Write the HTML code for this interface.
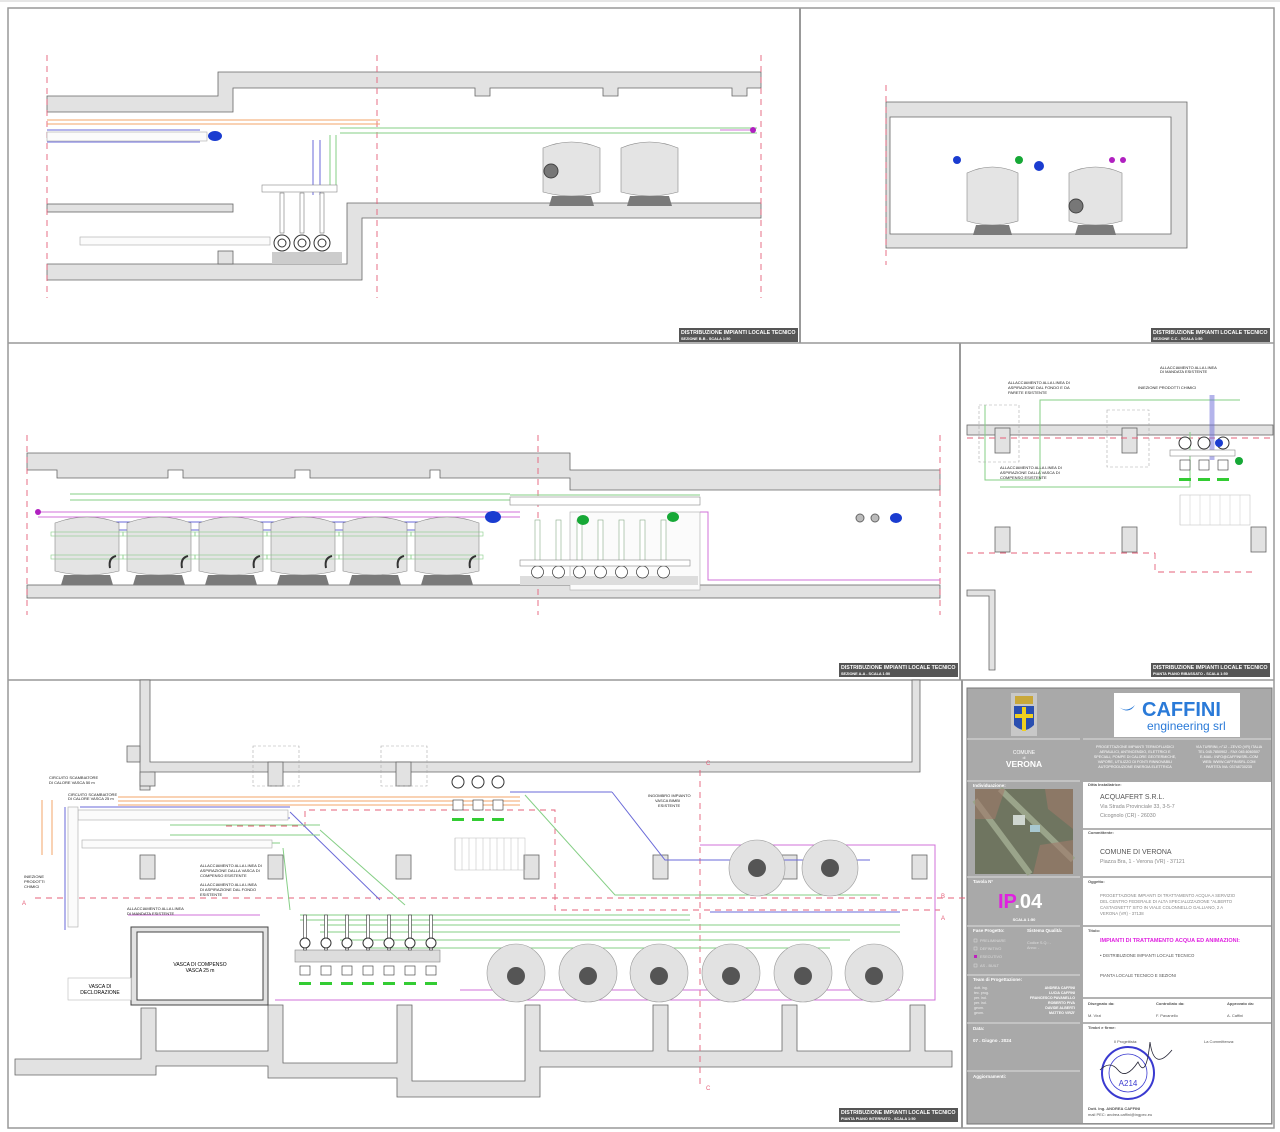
<!DOCTYPE html>
<html><head><meta charset="utf-8"><style>
html,body{margin:0;padding:0;background:#fff;}
svg{display:block;font-family:"Liberation Sans",sans-serif;}
</style></head><body>
<svg id="s" width="1280" height="1132" viewBox="0 0 1280 1132" xmlns="http://www.w3.org/2000/svg">
<rect width="1280" height="1132" fill="#fff"/>
<!-- frame -->
<rect x="8" y="8" width="1266" height="1120" fill="none" stroke="#999" stroke-width="1.5"/>
<line x1="0" y1="1" x2="1280" y2="1" stroke="#ccc"/>
<line x1="800" y1="8" x2="800" y2="343" stroke="#999" stroke-width="2"/>
<line x1="8" y1="343" x2="1274" y2="343" stroke="#999" stroke-width="1.5"/>
<line x1="960" y1="343" x2="960" y2="680" stroke="#999" stroke-width="2"/>
<line x1="8" y1="680" x2="1274" y2="680" stroke="#999" stroke-width="1.5"/>
<line x1="962" y1="680" x2="962" y2="1128" stroke="#999" stroke-width="2"/>

<g id="walls" fill="#e2e2e2" stroke="#666" stroke-width="0.8">
<!-- B-B -->
<path d="M47 96 H218 V72 H761 V88 H747 V96 H732 V88 H618 V96 H603 V88 H490 V96 H475 V88 H233 V112 H47 Z"/>
<rect x="47" y="204" width="186" height="8"/>
<path d="M347 203 H761 V218 H362 V280 H47 V264 H347 Z"/>
<rect x="218" y="251" width="15" height="13"/>
<!-- C-C -->
<path d="M886 102 H1187 V248 H886 Z M890 117 V234 H1171 V117 Z" fill-rule="evenodd"/>
<!-- A-A -->
<path d="M27 453 H570 V470 H940 V490 H570 V478 H440 V470 H430 V478 H310 V470 H295 V478 H183 V470 H168 V478 H57 V470 H27 Z"/>
<rect x="27" y="585" width="913" height="13"/>
<!-- plan ribassato -->
<rect x="967" y="425" width="306" height="10"/>
<rect x="995" y="428" width="15" height="25"/>
<rect x="1122" y="428" width="15" height="25"/>
<rect x="995" y="527" width="15" height="25"/>
<rect x="1122" y="527" width="15" height="25"/>
<rect x="1251" y="527" width="15" height="25"/>
<path d="M967 590 H995 V670 H989 V596 H967 Z"/>
<!-- plan interrato top -->
<path d="M140 680 H150 V762 H912 V680 H920 V772 H150 V790 H140 Z"/>
<rect x="127" y="746" width="13" height="16"/>
<rect x="140" y="772" width="15" height="14"/>
<rect x="268" y="762" width="15" height="24"/>
<rect x="396" y="762" width="15" height="24"/>
<rect x="140" y="855" width="15" height="24"/>
<rect x="268" y="855" width="15" height="24"/>
<rect x="396" y="855" width="15" height="24"/>
<rect x="524" y="855" width="15" height="24"/>
<rect x="653" y="855" width="15" height="24"/>
<rect x="782" y="855" width="15" height="24"/>
<rect x="912" y="855" width="15" height="24"/>
<!-- plan bottom -->
<path d="M15 1059 H141 V1008 H156 V1051 H268 V1005 H283 V1063 H397 V1005 H412 V1081 H525 V1005 H540 V1051 H653 V1005 H668 V1051 H782 V1005 H797 V1051 H910 V1005 H925 V1051 H952 V1067 H540 V1097 H397 V1078 H268 V1066 H156 V1075 H15 Z"/>
</g>
<!-- vasca compenso -->
<rect x="131" y="927" width="137" height="78" fill="#e2e2e2" stroke="#444"/>
<rect x="137" y="932" width="126" height="68" fill="#fff" stroke="#444"/>
<text x="200" y="966" font-size="5" text-anchor="middle">VASCA DI COMPENSO</text>
<text x="200" y="972" font-size="5" text-anchor="middle">VASCA 25 m</text>
<rect x="68" y="978" width="63" height="22" fill="#fff" stroke="#bbb" stroke-width="0.6"/>
<text x="100" y="988" font-size="5" text-anchor="middle">VASCA DI</text>
<text x="100" y="994" font-size="5" text-anchor="middle">DECLORAZIONE</text>

<!-- red dashed section lines -->
<g stroke="#e5607a" stroke-width="0.9" stroke-dasharray="6,5" fill="none">
<line x1="47" y1="55" x2="47" y2="298"/>
<line x1="377" y1="55" x2="377" y2="298"/>
<line x1="761" y1="55" x2="761" y2="298"/>
<line x1="886" y1="85" x2="886" y2="265"/>
<line x1="27" y1="435" x2="27" y2="615"/>
<line x1="538" y1="435" x2="538" y2="615"/>
<line x1="940" y1="435" x2="940" y2="615"/>
<line x1="967" y1="438" x2="1273" y2="438"/>
<line x1="967" y1="553" x2="1155" y2="553"/>
<polyline points="1155,553 1155,572 1255,572"/>
<polyline points="35,898 970,898"/>
<polyline points="226,826 305,826 305,810 555,810 555,910 940,910"/>
<line x1="700" y1="770" x2="700" y2="1085"/>
</g>
<g fill="#e5607a" font-size="6"><text x="22" y="905">A</text><text x="941" y="920">A</text><text x="217" y="817">B</text><text x="941" y="898">B</text><text x="706" y="765">C</text><text x="706" y="1090">C</text></g>

<!-- pipes -->
<g fill="none" stroke-width="1">
<!-- B-B -->
<g stroke="#f3a56a"><line x1="47" y1="120" x2="380" y2="120"/><line x1="47" y1="124" x2="380" y2="124"/></g>
<g stroke="#6a6ad8"><line x1="47" y1="130" x2="200" y2="130"/><line x1="47" y1="142" x2="200" y2="142"/><line x1="313" y1="140" x2="313" y2="195"/><line x1="320" y1="140" x2="320" y2="195"/></g>
<g stroke="#86cf86"><line x1="340" y1="128" x2="757" y2="128"/><line x1="340" y1="133" x2="757" y2="133"/><line x1="330" y1="135" x2="330" y2="185"/><line x1="336" y1="135" x2="336" y2="185"/><line x1="100" y1="238" x2="260" y2="238"/><line x1="100" y1="244" x2="260" y2="244"/></g>
<line x1="720" y1="130" x2="755" y2="130" stroke="#d070d8"/>
<!-- A-A -->
<g stroke="#86cf86"><line x1="70" y1="494" x2="510" y2="494"/><line x1="70" y1="500" x2="510" y2="500"/><line x1="510" y1="495" x2="700" y2="495"/></g>
<g stroke="#d070d8"><line x1="38" y1="512" x2="520" y2="512"/><line x1="38" y1="517" x2="520" y2="517"/><polyline points="700,512 708,512 708,580 940,580"/></g>
<g stroke="#6a6ad8"><line x1="60" y1="522" x2="470" y2="522"/><line x1="60" y1="530" x2="470" y2="530"/></g>
<!-- ribassato -->
<g stroke="#86cf86"><polyline points="985,405 985,480 1040,480 1040,400 1240,400"/><polyline points="1000,487 1190,487 1190,432"/></g>
<line x1="1212" y1="395" x2="1212" y2="460" stroke="#6a6ad8" stroke-width="5" opacity="0.5"/>
<!-- plan -->
<g stroke="#f3a56a"><line x1="52" y1="800" x2="52" y2="855"/><line x1="42" y1="800" x2="42" y2="855"/><line x1="118" y1="797" x2="520" y2="797"/><line x1="118" y1="801" x2="520" y2="801"/><line x1="118" y1="805" x2="520" y2="805"/></g>
<g stroke="#6a6ad8"><polyline points="65,807 65,930"/><line x1="80" y1="807" x2="290" y2="807"/><line x1="80" y1="818" x2="290" y2="818"/><polyline points="290,812 380,900"/><line x1="510" y1="792" x2="612" y2="792"/><polyline points="612,792 665,860 870,860"/><line x1="710" y1="912" x2="900" y2="912"/></g>
<g stroke="#86cf86"><line x1="170" y1="825" x2="320" y2="825"/><line x1="170" y1="835" x2="320" y2="835"/><polyline points="320,830 405,905"/><line x1="170" y1="843" x2="280" y2="843"/><polyline points="283,848 290,910"/><polyline points="525,795 615,895 880,895"/><line x1="300" y1="915" x2="690" y2="915"/><line x1="300" y1="920" x2="690" y2="920"/><line x1="320" y1="925" x2="900" y2="925"/><line x1="320" y1="932" x2="900" y2="932"/><line x1="340" y1="940" x2="850" y2="940"/><line x1="370" y1="948" x2="830" y2="948"/></g>
<g stroke="#d070d8"><polyline points="128,915 260,915"/><polyline points="275,1000 935,1000 935,845 700,845"/><line x1="460" y1="990" x2="900" y2="990"/></g>
</g>

<!-- gray pipe outlines -->
<g fill="#fbfbfb" stroke="#aaa" stroke-width="0.6">
<rect x="47" y="132" width="160" height="9"/>
<rect x="80" y="237" width="190" height="8"/>
<rect x="78" y="810" width="210" height="10"/>
<rect x="82" y="840" width="190" height="8"/>
<rect x="68" y="807" width="10" height="120"/>
<rect x="570" y="512" width="130" height="78"/>
</g>

<!-- filters drawn by script -->
<g id="fil"></g>

<!-- blue/green markers -->
<g>
<ellipse cx="215" cy="136" rx="7" ry="5" fill="#1a3cd0"/>
<circle cx="753" cy="130" r="3" fill="#b020c0"/>
<circle cx="38" cy="512" r="3" fill="#b020c0"/>
<ellipse cx="493" cy="517" rx="8" ry="6" fill="#1a3cd0"/>
<ellipse cx="583" cy="520" rx="6" ry="5" fill="#16a836"/>
<ellipse cx="673" cy="517" rx="6" ry="5" fill="#16a836"/>
<circle cx="860" cy="518" r="4" fill="#bbb" stroke="#666"/>
<circle cx="875" cy="518" r="4" fill="#bbb" stroke="#666"/>
<ellipse cx="896" cy="518" rx="6" ry="5" fill="#1a3cd0"/>
<circle cx="957" cy="160" r="4" fill="#1a3cd0"/>
<circle cx="1019" cy="160" r="4" fill="#16a836"/>
<circle cx="1039" cy="166" r="5" fill="#1a3cd0"/>
<circle cx="1112" cy="160" r="3" fill="#b020c0"/>
<circle cx="1123" cy="160" r="3" fill="#b020c0"/>
<circle cx="1219" cy="443" r="4" fill="#1a3cd0"/>
<circle cx="1239" cy="461" r="4" fill="#16a836"/>
</g>

<!-- annotations -->
<g font-size="4" fill="#222">
<text x="1008" y="384">ALLACCIAMENTO ALLA LINEA DI</text><text x="1008" y="389">ASPIRAZIONE DAL FONDO E DA</text><text x="1008" y="394">PARETE ESISTENTE</text>
<text x="1160" y="369">ALLACCIAMENTO ALLA LINEA</text><text x="1160" y="373">DI MANDATA ESISTENTE</text>
<text x="1138" y="389">INIEZIONE PRODOTTI CHIMICI</text>
<text x="1000" y="469">ALLACCIAMENTO ALLA LINEA DI</text><text x="1000" y="474">ASPIRAZIONE DALLA VASCA DI</text><text x="1000" y="479">COMPENSO ESISTENTE</text>
<text x="49" y="779">CIRCUITO SCAMBIATORE</text><text x="49" y="784">DI CALORE VASCA 50 m</text>
<text x="68" y="796">CIRCUITO SCAMBIATORE</text><text x="68" y="800">DI CALORE VASCA 25 m</text>
<text x="24" y="878">INIEZIONE</text><text x="24" y="883">PRODOTTI</text><text x="24" y="888">CHIMICI</text>
<text x="200" y="867">ALLACCIAMENTO ALLA LINEA DI</text><text x="200" y="872">ASPIRAZIONE DALLA VASCA DI</text><text x="200" y="877">COMPENSO ESISTENTE</text>
<text x="200" y="886">ALLACCIAMENTO ALLA LINEA</text><text x="200" y="891">DI ASPIRAZIONE DAL FONDO</text><text x="200" y="896">ESISTENTE</text>
<text x="127" y="910">ALLACCIAMENTO ALLA LINEA</text><text x="127" y="915">DI MANDATA ESISTENTE</text>
<text x="648" y="797">INGOMBRO IMPIANTO</text><text x="655" y="802">VASCA BIMBI</text><text x="658" y="807">ESISTENTE</text>
</g>

<!-- panel labels -->
<g font-weight="bold" fill="#fff">
<rect x="679" y="328" width="119" height="14" fill="#555"/><text x="681" y="334" font-size="5.3">DISTRIBUZIONE IMPIANTI LOCALE TECNICO</text><text x="681" y="340" font-size="3.8">SEZIONE B-B - SCALA 1:50</text>
<rect x="1151" y="328" width="119" height="14" fill="#555"/><text x="1153" y="334" font-size="5.3">DISTRIBUZIONE IMPIANTI LOCALE TECNICO</text><text x="1153" y="340" font-size="3.8">SEZIONE C-C - SCALA 1:50</text>
<rect x="839" y="663" width="119" height="14" fill="#555"/><text x="841" y="669" font-size="5.3">DISTRIBUZIONE IMPIANTI LOCALE TECNICO</text><text x="841" y="675" font-size="3.8">SEZIONE A-A - SCALA 1:50</text>
<rect x="1151" y="663" width="119" height="14" fill="#555"/><text x="1153" y="669" font-size="5.3">DISTRIBUZIONE IMPIANTI LOCALE TECNICO</text><text x="1153" y="675" font-size="3.8">PIANTA PIANO RIBASSATO - SCALA 1:50</text>
<rect x="839" y="1108" width="119" height="14" fill="#555"/><text x="841" y="1114" font-size="5.3">DISTRIBUZIONE IMPIANTI LOCALE TECNICO</text><text x="841" y="1120" font-size="3.8">PIANTA PIANO INTERRATO - SCALA 1:50</text>
</g>

<!-- TITLE BLOCK -->
<g>
<rect x="967" y="688" width="305" height="436" fill="#a9a9a9" stroke="#777"/>
<rect x="1083" y="782" width="188" height="341" fill="#fff"/>
<g stroke="#9a9a9a" stroke-width="1.5"><line x1="1083" y1="829" x2="1271" y2="829"/><line x1="1083" y1="877" x2="1271" y2="877"/><line x1="1083" y1="926" x2="1271" y2="926"/><line x1="1083" y1="998" x2="1271" y2="998"/><line x1="1083" y1="1023" x2="1271" y2="1023"/></g>
<g stroke="#ddd" stroke-width="1"><line x1="967" y1="739" x2="1080" y2="739"/><line x1="1083" y1="739" x2="1271" y2="739"/><line x1="967" y1="781" x2="1080" y2="781"/><line x1="967" y1="877" x2="1080" y2="877"/><line x1="967" y1="926" x2="1080" y2="926"/><line x1="967" y1="975" x2="1080" y2="975"/><line x1="967" y1="1023" x2="1080" y2="1023"/><line x1="967" y1="1071" x2="1080" y2="1071"/></g>
<!-- crest -->
<rect x="1011" y="693" width="26" height="43" fill="#c8c8c8"/>
<rect x="1015" y="696" width="18" height="8" fill="#c9a83a"/>
<path d="M1014 706 H1034 V725 Q1024 735 1014 725 Z" fill="#2a4fb0"/>
<rect x="1022" y="707" width="4" height="24" fill="#f0d020"/><rect x="1015" y="714" width="18" height="4" fill="#f0d020"/>
<!-- caffini -->
<rect x="1114" y="693" width="126" height="44" fill="#fff"/>
<path d="M1119 707 q8 6 16 -2 q-6 10 -16 2z" fill="#2a7ad8"/>
<text x="1142" y="716" font-size="20" font-weight="bold" fill="#2a7ad8">CAFFINI</text>
<text x="1147" y="730" font-size="12" fill="#2a7ad8">engineering srl</text>
<text x="1024" y="754" font-size="5" fill="#fff" text-anchor="middle">COMUNE</text>
<text x="1024" y="759" font-size="3.5" fill="#fff" text-anchor="middle">di</text>
<text x="1024" y="767" font-size="8.5" font-weight="bold" fill="#fff" text-anchor="middle">VERONA</text>
<g font-size="3.7" fill="#fff" text-anchor="middle"><text x="1135" y="748">PROGETTAZIONE IMPIANTI TERMOFLUIDICI</text><text x="1135" y="753">AERAULICI, ANTINCENDIO, ELETTRICI E</text><text x="1135" y="758">SPECIALI, POMPE DI CALORE GEOTERMICHE,</text><text x="1135" y="763">VAPORE, UTILIZZO DI FONTI RINNOVABILI</text><text x="1135" y="768">AUTOPRODUZIONE ENERGIA ELETTRICA</text>
<text x="1229" y="748">VIA TURRINI, n°12 - ZEVIO (VR) ITALIA</text><text x="1229" y="753">TEL 045.7850902 - FAX 045.6060507</text><text x="1229" y="758">E-MAIL: INFO@CAFFINISRL.COM</text><text x="1229" y="763">WEB: WWW.CAFFINISRL.COM</text><text x="1229" y="768">PARTITA IVA: 03748730235</text></g>
<text x="973" y="787" font-size="4.5" font-weight="bold" fill="#fff">Individuazione:</text>
<rect x="975" y="789" width="98" height="85" fill="#6f7560"/>
<path d="M975 800 L1030 874 M1000 789 L1073 860" stroke="#9aa48a" stroke-width="6"/>
<rect x="1013" y="815" width="12" height="10" fill="#cfd6d0"/><rect x="1030" y="825" width="10" height="7" fill="#a8c8d0"/>
<path d="M975 789 h30 l-10 30 h-20z M1045 789 h28 v40 l-25 -20z M1040 845 l33 -5 v34 h-40z" fill="#a07a6a" opacity="0.6"/>
<text x="973" y="883" font-size="4.5" font-weight="bold" fill="#fff">Tavola N°</text>
<text x="998" y="908" font-size="20" font-weight="bold" fill="#e020e0">IP<tspan fill="#fff">.04</tspan></text>
<text x="1024" y="921" font-size="4" fill="#fff" text-anchor="middle" font-weight="bold">SCALA 1:50</text>
<text x="973" y="932" font-size="4.5" font-weight="bold" fill="#fff">Fase Progetto:</text>
<text x="1027" y="932" font-size="4.5" font-weight="bold" fill="#fff">Sistema Qualità:</text>
<g font-size="3.8" fill="#ddd"><rect x="974" y="939" width="3" height="3" fill="none" stroke="#ddd" stroke-width="0.5"/><text x="980" y="942">PRELIMINARE</text><rect x="974" y="947" width="3" height="3" fill="none" stroke="#ddd" stroke-width="0.5"/><text x="980" y="950">DEFINITIVO</text><rect x="974" y="955" width="3" height="3" fill="#c020c0"/><text x="980" y="958">ESECUTIVO</text><rect x="974" y="964" width="3" height="3" fill="none" stroke="#ddd" stroke-width="0.5"/><text x="980" y="967">AS - BUILT</text><text x="1027" y="944">Codice S.Q.:  -</text><text x="1027" y="949">Anno:  -</text></g>
<text x="973" y="981" font-size="4.5" font-weight="bold" fill="#fff">Team di Progettazione:</text>
<g font-size="3.6" fill="#eee"><text x="974" y="989">dott. ing.</text><text x="974" y="994">tec. prog.</text><text x="974" y="999">per. ind.</text><text x="974" y="1004">per. ind.</text><text x="974" y="1009">geom.</text><text x="974" y="1014">geom.</text></g>
<g font-size="3.6" fill="#fff" font-weight="bold" text-anchor="end"><text x="1075" y="989">ANDREA CAFFINI</text><text x="1075" y="994">LUCIA CAFFINI</text><text x="1075" y="999">FRANCESCO PAVANELLO</text><text x="1075" y="1004">ROBERTO PIVA</text><text x="1075" y="1009">DAVIDE ALBERTI</text><text x="1075" y="1014">MATTEO VIRZI'</text></g>
<text x="973" y="1030" font-size="4.5" font-weight="bold" fill="#fff">Data:</text>
<text x="973" y="1042" font-size="4.5" font-weight="bold" fill="#fff">07 . Giugno . 2024</text>
<text x="973" y="1078" font-size="4.5" font-weight="bold" fill="#fff">Aggiornamenti:</text>
<g font-size="4" fill="#555" font-weight="bold"><text x="1088" y="786">Ditta Installatrice:</text><text x="1088" y="834">Committente:</text><text x="1088" y="883">Oggetto:</text><text x="1088" y="932">Titolo:</text><text x="1088" y="1005">Disegnato da:</text><text x="1156" y="1005">Controllato da:</text><text x="1227" y="1005">Approvato da:</text><text x="1088" y="1029">Timbri e firme:</text><text x="1114" y="1043" font-weight="normal">Il Progettista:</text><text x="1204" y="1043" font-weight="normal">La Committenza:</text>
<text x="1088" y="1017" font-weight="normal">M. Virzi</text><text x="1156" y="1017" font-weight="normal">F. Pavanello</text><text x="1227" y="1017" font-weight="normal">A. Caffini</text></g>
<text x="1100" y="799" font-size="7" fill="#555">ACQUAFERT S.R.L.</text>
<text x="1100" y="808" font-size="5.3" fill="#888">Via Strada Provinciale 33, 3-5-7</text>
<text x="1100" y="817" font-size="5.3" fill="#888">Cicognolo (CR) - 26030</text>
<text x="1100" y="854" font-size="7" fill="#555">COMUNE DI VERONA</text>
<text x="1100" y="863" font-size="5.3" fill="#888">Piazza Bra, 1 - Verona (VR) - 37121</text>
<g font-size="4.3" fill="#888"><text x="1100" y="897">PROGETTAZIONE IMPIANTI DI TRATTAMENTO ACQUA A SERVIZIO</text><text x="1100" y="903">DEL CENTRO FEDERALE DI ALTA SPECIALIZZAZIONE "ALBERTO</text><text x="1100" y="909">CASTAGNETTI" SITO IN VIALE COLONNELLO GALLIANO, 2 A</text><text x="1100" y="915">VERONA (VR) - 37138</text></g>
<text x="1100" y="942" font-size="5.5" font-weight="bold" fill="#e020e0">IMPIANTI DI TRATTAMENTO ACQUA ED ANIMAZIONI:</text>
<text x="1100" y="957" font-size="4.3" fill="#555">• DISTRIBUZIONE IMPIANTI LOCALE TECNICO</text>
<text x="1100" y="977" font-size="4.3" fill="#555">PIANTA LOCALE TECNICO E SEZIONI</text>
<circle cx="1128" cy="1073" r="26" fill="none" stroke="#3a3ad0" stroke-width="2"/>
<circle cx="1128" cy="1073" r="19" fill="none" stroke="#3a3ad0" stroke-width="0.8"/>
<text x="1128" y="1086" font-size="8" fill="#3a3ad0" text-anchor="middle">A214</text>
<path d="M1100 1070 q10 -10 18 0 t20 -8 q8 18 12 -20 q4 30 22 8" fill="none" stroke="#223" stroke-width="0.8"/>
<text x="1088" y="1110" font-size="4" font-weight="bold" fill="#555">Dott. Ing. ANDREA CAFFINI</text>
<text x="1088" y="1116" font-size="4" fill="#555">mail PEC: andrea.caffini@ingpec.eu</text>
</g>
</svg>
<script>
var g=document.getElementById('fil'),NS='http://www.w3.org/2000/svg';
function el(t,a){var e=document.createElementNS(NS,t);for(var k in a)e.setAttribute(k,a[k]);g.appendChild(e);return e;}
function tank(x,y,w,h){el('path',{d:'M'+x+' '+(y+8)+' Q'+(x+w/2)+' '+(y-4)+' '+(x+w)+' '+(y+8)+' V'+(y+h-6)+' Q'+(x+w/2)+' '+(y+h+2)+' '+x+' '+(y+h-6)+' Z',fill:'#e4e4e4',stroke:'#888','stroke-width':0.6});
 el('path',{d:'M'+(x+6)+' '+(y+h+8)+' L'+(x+9)+' '+(y+h-2)+' H'+(x+w-9)+' L'+(x+w-6)+' '+(y+h+8)+' Z',fill:'#7a7a7a'});}
tank(543,140,57,58);tank(621,140,57,58);
el('circle',{cx:551,cy:171,r:7,fill:'#777',stroke:'#444'});
tank(967,165,51,62);tank(1069,165,53,62);
el('circle',{cx:1076,cy:206,r:7,fill:'#777',stroke:'#444'});
for(var i=0;i<6;i++){var x=55+i*72;tank(x,515,64,62);
 el('rect',{x:x-4,y:532,width:72,height:4,fill:'none',stroke:'#8c8','stroke-width':0.6});
 el('rect',{x:x-4,y:555,width:72,height:4,fill:'none',stroke:'#8c8','stroke-width':0.6});
 el('path',{d:'M'+(x+55)+' 568 q-2 -10 6 -12',stroke:'#333','stroke-width':2,fill:'none'});}
// A-A pump set
el('rect',{x:520,y:576,width:178,height:9,fill:'#ddd'});
for(var i=0;i<7;i++){var x=535+i*21;el('rect',{x:x,y:520,width:5,height:50,fill:'#fff',stroke:'#8a8','stroke-width':0.6});el('circle',{cx:x+2.5,cy:572,r:6,fill:'#fff',stroke:'#333','stroke-width':0.7});}
el('rect',{x:520,y:560,width:170,height:6,fill:'#fff',stroke:'#888','stroke-width':0.6});
el('rect',{x:510,y:497,width:190,height:8,fill:'#fff',stroke:'#888','stroke-width':0.6});
// B-B pumps
el('rect',{x:272,y:252,width:70,height:12,fill:'#ccc'});
for(var i=0;i<3;i++){var x=282+i*20;el('circle',{cx:x,cy:243,r:8,fill:'#fff',stroke:'#333'});el('circle',{cx:x,cy:243,r:4,fill:'none',stroke:'#333'});el('rect',{x:x-2,y:193,width:4,height:40,fill:'#fff',stroke:'#777','stroke-width':0.6});}
el('rect',{x:262,y:185,width:75,height:7,fill:'#fff',stroke:'#888','stroke-width':0.6});
// ribassato pumps
for(var i=0;i<3;i++){var x=1185+i*19;el('circle',{cx:x,cy:443,r:6,fill:'#fff',stroke:'#333'});el('rect',{x:x-5,y:460,width:10,height:10,fill:'#fff',stroke:'#333','stroke-width':0.6});el('rect',{x:x-6,y:478,width:12,height:3,fill:'#3c3'});}
el('rect',{x:1170,y:450,width:65,height:6,fill:'#fff',stroke:'#888','stroke-width':0.6});
el('rect',{x:1180,y:495,width:70,height:30,fill:'none',stroke:'#bbb','stroke-width':0.5});
for(var i=0;i<7;i++)el('line',{x1:1180+i*10,y1:495,x2:1180+i*10,y2:525,stroke:'#ccc','stroke-width':0.5});
// plan filters
var cx=[516,588,659,731,803,874];
for(var i=0;i<6;i++){el('circle',{cx:cx[i],cy:973,r:29,fill:'#e2e2e2',stroke:'#999','stroke-width':0.6});el('circle',{cx:cx[i],cy:976,r:9,fill:'#555'});}
[757,830].forEach(function(c){el('circle',{cx:c,cy:868,r:28,fill:'#e2e2e2',stroke:'#999','stroke-width':0.6});el('circle',{cx:c,cy:868,r:9,fill:'#555'});});
// plan pump bank
el('rect',{x:295,y:950,width:145,height:12,fill:'#ddd',stroke:'#888','stroke-width':0.6});
for(var i=0;i<7;i++){var x=305+i*21;el('rect',{x:x-1.5,y:915,width:3,height:35,fill:'#fff',stroke:'#333','stroke-width':0.6});el('circle',{cx:x,cy:943,r:5,fill:'#fff',stroke:'#333'});el('rect',{x:x-5,y:966,width:10,height:9,fill:'#fff',stroke:'#333','stroke-width':0.6});el('rect',{x:x-6,y:982,width:12,height:3,fill:'#3c3'});}
for(var i=0;i<3;i++){var x=458+i*20;el('circle',{cx:x,cy:782,r:6,fill:'#fff',stroke:'#333'});el('rect',{x:x-5,y:800,width:10,height:10,fill:'#fff',stroke:'#333','stroke-width':0.6});el('rect',{x:x-6,y:818,width:12,height:3,fill:'#3c3'});}
// stairs
for(var i=0;i<10;i++)el('line',{x1:455+i*7,y1:838,x2:455+i*7,y2:870,stroke:'#bbb','stroke-width':0.5});
el('rect',{x:455,y:838,width:70,height:32,fill:'none',stroke:'#bbb','stroke-width':0.5});
// dashed gray boxes
[[253,746,46,40],[381,746,46,40],[1107,410,42,57],[979,405,40,57]].forEach(function(r){el('rect',{x:r[0],y:r[1],width:r[2],height:r[3],fill:'none',stroke:'#aaa','stroke-dasharray':'3,2','stroke-width':0.6});});
</script>
</body></html>
